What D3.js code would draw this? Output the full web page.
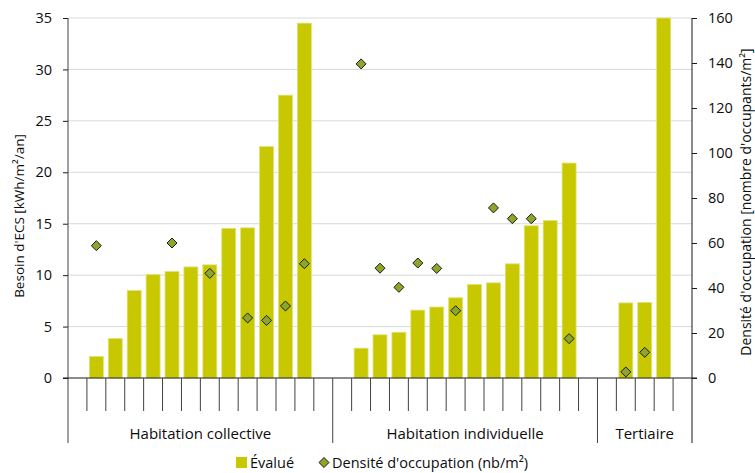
<!DOCTYPE html>
<html><head><meta charset="utf-8">
<script src="https://cdn.jsdelivr.net/npm/d3@7/dist/d3.min.js"></script>
<style>
body{margin:0;background:#fff;}
text{font-family:"Open Sans",sans-serif;fill:#0d0d0d;}
</style></head>
<body><svg id="c" width="755" height="473"></svg>
<script>
// ---- data ----
const groupLabels = ["Habitation collective", "Habitation individuelle", "Tertiaire"];
const groupSizes = [14, 14, 5];
const categories = d3.range(33).map(i => "c" + i);
const evalue = [null, 2.1, 3.85, 8.5, 10.05, 10.35, 10.8, 11.0, 14.55, 14.6, 22.5, 27.5, 34.5, null,
                null, 2.9, 4.2, 4.45, 6.6, 6.9, 7.8, 9.1, 9.25, 11.1, 14.8, 15.3, 20.9, null,
                null, 7.3, 7.35, 35, null];
const densite = [null, 58.8, null, null, null, 60.0, null, 46.5, null, 26.7, 25.6, 32.0, 50.8, null,
                 null, 139.6, 48.8, 40.3, 51.1, 48.7, 29.9, null, 75.6, 70.8, 70.8, null, 17.5, null,
                 null, 2.7, 11.4, null, null];
const leftTicks = [0, 5, 10, 15, 20, 25, 30, 35];
const rightTicks = [0, 20, 40, 60, 80, 100, 120, 140, 160];
const leftTitle = "Besoin d'ECS [kWh/m²/an]";
const rightTitle = "Densité d'occupation [nombre d'occupants/m²]";
const legendLabels = ["Évalué", "Densité d'occupation (nb/m²)"];

// ---- layout ----
const L = 68, R = 692, T = 18, B = 378;
const svg = d3.select("#c");
const x = d3.scaleBand().domain(categories).range([L, R]).paddingInner(0.26).paddingOuter(0.13);
const yL = d3.scaleLinear().domain([0, 35]).range([B, T]);
const yR = d3.scaleLinear().domain([0, 160]).range([B, T]);
const step = x.step();
const edge = i => L + step * i;

// gridlines
svg.append("g").selectAll("line").data(leftTicks.filter(d => d > 0)).join("line")
  .attr("x1", L).attr("x2", R).attr("y1", d => yL(d)).attr("y2", d => yL(d))
  .attr("stroke", "#d9d9d9").attr("stroke-width", 1);

// bars
const barData = categories.map((c, i) => ({c, v: evalue[i]})).filter(d => d.v != null);
svg.append("g").selectAll("rect").data(barData).join("rect")
  .attr("x", d => x(d.c)).attr("width", x.bandwidth())
  .attr("y", d => yL(Math.min(d.v, 35))).attr("height", d => B - yL(Math.min(d.v, 35)))
  .attr("fill", "#c8c800").attr("stroke", "#e2e27a").attr("stroke-width", 0.8);

// left axis
const gL = svg.append("g").attr("transform", `translate(${L},0)`)
  .call(d3.axisLeft(yL).tickValues(leftTicks).tickSize(5).tickPadding(11));
gL.select(".domain").remove();
gL.selectAll(".tick line").attr("stroke", "#1a1a1a");
gL.selectAll(".tick text").attr("font-size", 14.5).attr("font-family", "Open Sans").attr("fill", "#0d0d0d");

// right axis
const gR = svg.append("g").attr("transform", `translate(${R},0)`)
  .call(d3.axisRight(yR).tickValues(rightTicks).tickSize(5).tickPadding(11));
gR.select(".domain").remove();
gR.selectAll(".tick line").attr("stroke", "#1a1a1a");
gR.selectAll(".tick text").attr("font-size", 14.5).attr("font-family", "Open Sans").attr("fill", "#0d0d0d");

// vertical axis lines
svg.append("line").attr("x1", L).attr("x2", L).attr("y1", T).attr("y2", 443).attr("stroke", "#404040");
svg.append("line").attr("x1", R).attr("x2", R).attr("y1", T).attr("y2", 443).attr("stroke", "#1a1a1a");
svg.append("line").attr("x1", L - 5).attr("x2", R + 5).attr("y1", B).attr("y2", B).attr("stroke", "#1a1a1a");

// category ticks
let acc = 0;
const groupStarts = [0];
groupSizes.forEach(s => { acc += s; groupStarts.push(acc); });
const bounds = d3.range(1, categories.length).filter(i => !groupStarts.includes(i));
svg.append("g").selectAll("line").data(bounds).join("line")
  .attr("x1", edge).attr("x2", edge)
  .attr("y1", B).attr("y2", 411).attr("stroke", "#404040");
// group separators
svg.append("g").selectAll("line").data(groupStarts.slice(1, -1)).join("line")
  .attr("x1", edge).attr("x2", edge)
  .attr("y1", B).attr("y2", 443).attr("stroke", "#404040");
// group labels
svg.append("g").selectAll("text").data(groupLabels).join("text")
  .attr("x", (d, k) => L + step * (groupStarts[k] + groupSizes[k] / 2))
  .attr("y", 439).attr("text-anchor", "middle").attr("font-size", 15).text(d => d);

// diamonds
const ptData = categories.map((c, i) => ({c, v: densite[i]})).filter(d => d.v != null);
const sym = d3.symbol().type(d3.symbolDiamond2).size(64);
svg.append("g").selectAll("path").data(ptData).join("path")
  .attr("d", sym)
  .attr("transform", d => `translate(${x(d.c) + x.bandwidth() / 2},${yR(d.v)})`)
  .attr("fill", "#8ca62a").attr("stroke", "#1a1a1a").attr("stroke-width", 1);

// axis titles
svg.append("text").attr("transform", `translate(24,216) rotate(-90)`)
  .attr("text-anchor", "middle").attr("font-size", 13.5).text(leftTitle);
svg.append("text").attr("transform", `translate(750.5,202) rotate(-90)`)
  .attr("text-anchor", "middle").attr("font-size", 14).text(rightTitle);

// legend
const lg = svg.append("g");
lg.append("rect").attr("x", 236).attr("y", 457).attr("width", 11).attr("height", 11).attr("fill", "#c8c800");
lg.append("text").attr("x", 250).attr("y", 468).attr("font-size", 14.5).text(legendLabels[0]);
lg.append("path").attr("d", sym).attr("transform", "translate(324,462.5)")
  .attr("fill", "#8ca62a").attr("stroke", "#1a1a1a").attr("stroke-width", 1);
lg.append("text").attr("x", 332).attr("y", 468).attr("font-size", 14.5).text(legendLabels[1]);
</script></body></html>
